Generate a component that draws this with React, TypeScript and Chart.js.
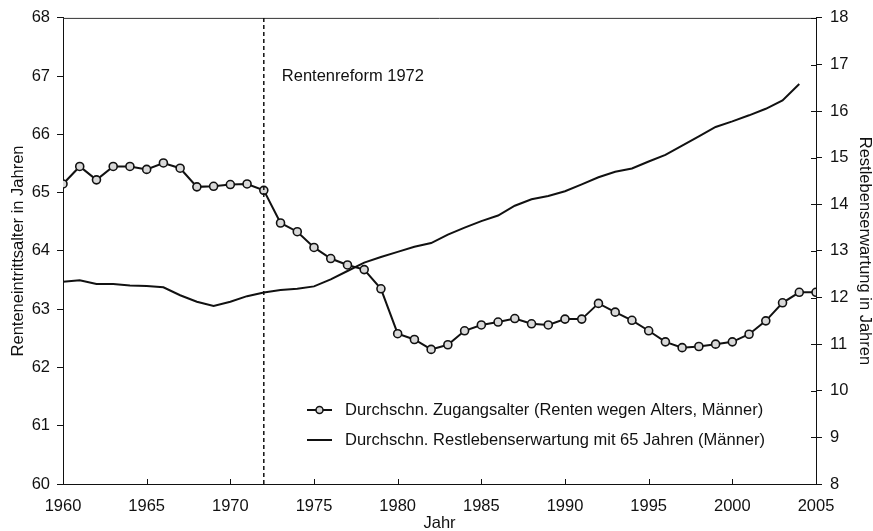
import React, { useEffect, useRef } from "react";
import { Chart, registerables } from "chart.js";

Chart.register(...registerables);

const years: number[] = [
  1960, 1961, 1962, 1963, 1964, 1965, 1966, 1967, 1968, 1969,
  1970, 1971, 1972, 1973, 1974, 1975, 1976, 1977, 1978, 1979,
  1980, 1981, 1982, 1983, 1984, 1985, 1986, 1987, 1988, 1989,
  1990, 1991, 1992, 1993, 1994, 1995, 1996, 1997, 1998, 1999,
  2000, 2001, 2002, 2003, 2004, 2005,
];

const zugangsalter: number[] = [
  65.15, 65.45, 65.22, 65.45, 65.45, 65.40, 65.51, 65.42, 65.10, 65.11,
  65.14, 65.15, 65.04, 64.48, 64.33, 64.06, 63.87, 63.76, 63.68, 63.35,
  62.58, 62.48, 62.31, 62.39, 62.63, 62.73, 62.78, 62.84, 62.75, 62.73,
  62.83, 62.83, 63.10, 62.95, 62.81, 62.63, 62.44, 62.34, 62.36, 62.40,
  62.44, 62.57, 62.80, 63.11, 63.29, 63.29,
];

const restlebenserwartung: number[] = [
  12.34, 12.37, 12.29, 12.29, 12.26, 12.25, 12.22, 12.05, 11.91, 11.82,
  11.91, 12.03, 12.11, 12.16, 12.19, 12.24, 12.39, 12.57, 12.75, 12.87,
  12.98, 13.09, 13.17, 13.35, 13.50, 13.64, 13.76, 13.97, 14.11, 14.18,
  14.28, 14.43, 14.58, 14.70, 14.77, 14.92, 15.06, 15.26, 15.46, 15.66,
  15.78, 15.91, 16.05, 16.23, 16.58,
];

const seriesLabels: string[] = [
  "Durchschn. Zugangsalter (Renten wegen Alters, Männer)",
  "Durchschn. Restlebenserwartung mit 65 Jahren (Männer)",
];

const reformYear = 1972;
const reformLabel = "Rentenreform 1972";
const xTitle = "Jahr";
const leftTitle = "Renteneintrittsalter in Jahren";
const rightTitle = "Restlebenserwartung in Jahren";

const FONT = "'Liberation Sans', Arial, Helvetica, sans-serif";
const FS = 16.5;
const INK = "#111111";

const overlayPlugin = {
  id: "overlay",
  afterDatasetsDraw(chart: any) {
    const { ctx, chartArea } = chart;
    const xs = chart.scales.x;
    const yr = chart.scales.y1;
    const { left, right, top, bottom } = chartArea;
    ctx.save();
    // top border
    ctx.strokeStyle = "#333";
    ctx.lineWidth = 1;
    ctx.beginPath();
    ctx.moveTo(left, top + 0.5);
    ctx.lineTo(right, top + 0.5);
    ctx.stroke();

    // inward x ticks
    ctx.strokeStyle = INK;
    ctx.lineWidth = 1;
    for (let v = 1960; v <= 2005; v += 5) {
      const px = Math.round(xs.getPixelForValue(v)) + 0.5;
      ctx.beginPath();
      ctx.moveTo(px, bottom);
      ctx.lineTo(px, bottom - 5);
      ctx.stroke();
    }
    // inward part of right ticks
    for (let v = 8; v <= 18; v += 1) {
      const py = Math.round(yr.getPixelForValue(v)) + 0.5;
      ctx.beginPath();
      ctx.moveTo(right - 5, py);
      ctx.lineTo(right, py);
      ctx.stroke();
    }

    // reform dashed line
    const rx = xs.getPixelForValue(reformYear);
    ctx.strokeStyle = INK;
    ctx.lineWidth = 1.5;
    ctx.setLineDash([4, 3]);
    ctx.beginPath();
    ctx.moveTo(rx, top);
    ctx.lineTo(rx, bottom);
    ctx.stroke();
    ctx.setLineDash([]);

    // annotation text
    ctx.fillStyle = INK;
    ctx.font = `${FS}px ${FONT}`;
    ctx.textBaseline = "middle";
    ctx.textAlign = "left";
    ctx.fillText(reformLabel, rx + 18, top + 59);

    // legend
    const lx0 = left + 244;
    const lx1 = lx0 + 25;
    const tx = lx0 + 38;
    const rows = [bottom - 74, bottom - 44];
    ctx.lineWidth = 2;
    ctx.strokeStyle = INK;
    rows.forEach((ry, i) => {
      ctx.beginPath();
      ctx.moveTo(lx0, ry);
      ctx.lineTo(lx1, ry);
      ctx.stroke();
      if (i === 0) {
        ctx.beginPath();
        ctx.arc((lx0 + lx1) / 2, ry, 3.5, 0, Math.PI * 2);
        ctx.fillStyle = "#d9d9d9";
        ctx.fill();
        ctx.lineWidth = 1.5;
        ctx.stroke();
        ctx.lineWidth = 2;
      }
      ctx.fillStyle = INK;
      ctx.fillText(chart.data.datasets[i].label, tx, ry);
    });
    ctx.restore();
  },
};

export default function App() {
  const canvasRef = useRef<HTMLCanvasElement | null>(null);

  useEffect(() => {
    const canvas = canvasRef.current;
    if (!canvas) return;
    const tickFont = { family: FONT, size: FS };
    const chart = new Chart(canvas, {
      type: "line",
      data: {
        datasets: [
          {
            label: seriesLabels[0],
            data: years.map((y, i) => ({ x: y, y: zugangsalter[i] })),
            yAxisID: "y",
            borderColor: INK,
            borderWidth: 2,
            pointRadius: 4,
            pointBorderWidth: 1.6,
            pointBackgroundColor: "#d9d9d9",
            pointBorderColor: INK,
            tension: 0,
            order: 1,
          },
          {
            label: seriesLabels[1],
            data: restlebenserwartung.map((v, i) => ({ x: years[i], y: v })),
            yAxisID: "y1",
            borderColor: INK,
            borderWidth: 2,
            pointRadius: 0,
            tension: 0,
            order: 2,
          },
        ],
      },
      options: {
        animation: false,
        responsive: true,
        maintainAspectRatio: false,
        devicePixelRatio: 1,
        layout: { padding: { top: 13, left: 0, right: 0, bottom: 0 } },
        plugins: {
          legend: { display: false },
          tooltip: { enabled: false },
        },
        scales: {
          x: {
            type: "linear",
            min: 1960,
            max: 2005,
            ticks: {
              stepSize: 5,
              autoSkip: false,
              maxRotation: 0,
              padding: 13,
              color: INK,
              font: tickFont,
              callback: (v: any) => String(v),
            },
            grid: { drawOnChartArea: false, drawTicks: false },
            border: { color: INK, width: 1 },
            title: {
              display: true,
              text: xTitle,
              color: INK,
              font: { family: FONT, size: FS, lineHeight: 1 },
              padding: { top: 0, bottom: -1 },
            },
            afterFit: (s: any) => {
              s.height = 47;
            },
          },
          y: {
            type: "linear",
            position: "left",
            min: 60,
            max: 68,
            ticks: { stepSize: 1, padding: 7, color: INK, font: tickFont },
            grid: { drawOnChartArea: false, tickLength: 6, color: INK },
            border: { color: INK, width: 1 },
            title: {
              display: true,
              text: leftTitle,
              color: INK,
              font: { family: FONT, size: FS, lineHeight: 1.2 },
              padding: { top: 9, bottom: 0 },
            },
            afterFit: (s: any) => {
              s.width = 63;
            },
          },
          y1: {
            type: "linear",
            position: "right",
            min: 8,
            max: 18,
            ticks: { stepSize: 1, padding: 8, color: INK, font: tickFont },
            grid: { drawOnChartArea: false, tickLength: 6, color: INK },
            border: { color: INK, width: 1 },
            title: {
              display: true,
              text: rightTitle,
              color: INK,
              font: { family: FONT, size: FS, lineHeight: 1 },
              padding: { top: 0, bottom: 0 },
            },
            afterFit: (s: any) => {
              s.width = 57;
            },
          },
        },
      },
      plugins: [overlayPlugin],
    });
    return () => chart.destroy();
  }, []);

  return (
    <div
      style={{
        position: "fixed",
        left: 0,
        top: 0,
        width: "873px",
        height: "531px",
        background: "#fff",
      }}
    >
      <canvas ref={canvasRef} />
    </div>
  );
}
